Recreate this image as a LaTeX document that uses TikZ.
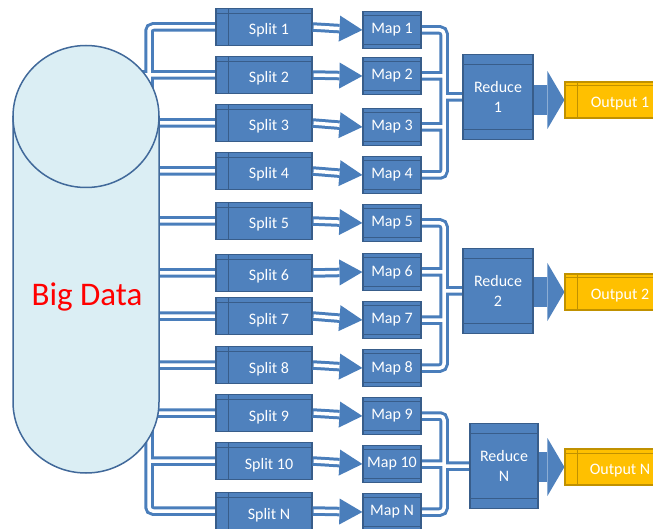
\documentclass[tikz,border=0pt]{standalone}
\usepackage{fontspec}
\setmainfont{Carlito}
\usetikzlibrary{positioning,arrows.meta,calc,backgrounds}
\definecolor{boxblue}{HTML}{4F81BD}
\definecolor{boxedge}{HTML}{385D8A}
\definecolor{pipeblue}{HTML}{4A7EBB}
\definecolor{cylfill}{HTML}{DBEEF4}
\definecolor{cyledge}{HTML}{41699A}
\definecolor{gold}{HTML}{FFC000}
\definecolor{goldedge}{HTML}{C09100}
\definecolor{bigred}{HTML}{FF0000}
\tikzset{
  blk/.style={rectangle, draw=boxedge, fill=boxblue, line width=1.2pt,
    text=white, inner sep=2pt, align=center},
  splitblk/.style={blk, minimum width=96pt, minimum height=37pt,
    text height=16pt, text depth=0pt, execute at begin node=\hspace*{10pt},
    path picture={
      \draw[boxedge, line width=1pt] ([yshift=-5pt]path picture bounding box.north west) -- ([yshift=-5pt]path picture bounding box.north east);
      \draw[boxedge, line width=1pt] ([xshift=12pt]path picture bounding box.north west) -- ([xshift=12pt]path picture bounding box.south west);}},
  mapblk/.style={blk, minimum width=58pt, minimum height=37pt,
    path picture={
      \draw[boxedge, line width=1pt] ([yshift=-4pt]path picture bounding box.north west) -- ([yshift=-4pt]path picture bounding box.north east);
      \draw[boxedge, line width=1pt] ([yshift=4pt]path picture bounding box.south west) -- ([yshift=4pt]path picture bounding box.south east);}},
  reduceblk/.style={blk, minimum width=70pt, minimum height=85pt,
    path picture={
      \draw[boxedge, line width=1pt] ([yshift=-10pt]path picture bounding box.north west) -- ([yshift=-10pt]path picture bounding box.north east);
      \draw[boxedge, line width=1pt] ([yshift=10pt]path picture bounding box.south west) -- ([yshift=10pt]path picture bounding box.south east);}},
  outblk/.style={blk, draw=goldedge, fill=gold, minimum width=100pt, minimum height=36pt,
    text height=15pt, text depth=0pt, execute at begin node=\hspace*{10pt},
    path picture={
      \draw[goldedge, line width=1pt] ([yshift=-4pt]path picture bounding box.north west) -- ([yshift=-4pt]path picture bounding box.north east);
      \draw[goldedge, line width=1pt] ([xshift=12pt]path picture bounding box.north west) -- ([xshift=12pt]path picture bounding box.south west);}},
  pipe/.style={draw=pipeblue, line width=3pt, double=white, double distance=3.5pt, rounded corners=4pt},
  arrowpipe/.style={draw=pipeblue, line width=9.5pt, -{Triangle[length=23pt, width=26pt, line width=0pt]}},
  arrowcore/.style={draw=white, line width=3.5pt, shorten <=1pt, shorten >=23pt},
  fatarrow/.style={draw=boxblue, line width=30pt, -{Triangle[length=17pt, width=58pt, line width=0pt]}},
  cyl/.style={fill=cylfill, draw=cyledge, line width=1.5pt},
}

\begin{document}
\begin{tikzpicture}[x=1pt, y=-1pt, font=\fontsize{16}{20}\selectfont]
  \path[use as bounding box, clip] (0,0) rectangle (653,529);

  % Splits and Maps
  \foreach \i/\ys/\ym/\lab in {1/27/30/1, 2/75/76/2, 3/123/127/3, 4/171/175/4,
      5/221/223/5, 6/273/272/6, 7/316/320/7, 8/365/368/8,
      9/413/416/9, 10/461/464/10, 11/511/512/N}{
    \node[splitblk] (s\i) at (264,\ys) {Split \lab};
    \node[mapblk] (m\i) at (392,\ym) {Map \lab};
  }

  % Reduce
  \node[reduceblk] (r1) at (498,97) {Reduce\\1};
  \node[reduceblk] (r2) at (498,291) {Reduce\\2};
  \node[reduceblk, minimum width=68pt] (r3) at (504,466) {Reduce\\N};

  % Output
  \node[outblk] (o1) at (615,100) {Output 1};
  \node[outblk] (o2) at (615,292) {Output 2};
  \node[outblk] (o3) at (615,467) {Output N};

  \coordinate (cyl) at (120,0);
  \coordinate (tt) at (149,95);
  \coordinate (tb) at (149,420);
  \coordinate (c1) at (444,0);

  \begin{scope}[on background layer]
    % Big Data -> Splits
    \draw[pipe] (tt) |- (s1.west)
      foreach \i in {2,...,9}{(s\i.west -| cyl) -- (s\i.west)}
      (tb) |- (s11.west) (s10.west -| tb) -- (s10.west);
    % Maps -> Reduce
    \draw[pipe] (m1.east) -| (c1 |- m4.east) -- (m4.east)
      (m2.east) -- (m2.east -| c1) (m3.east) -- (m3.east -| c1)
      (r1.west) -- (r1.west -| c1);
    \draw[pipe] (m5.east) -| (c1 |- m8.east) -- (m8.east)
      (m6.east) -- (m6.east -| c1) (m7.east) -- (m7.east -| c1)
      (r2.west) -- (r2.west -| c1);
    \draw[pipe] (m9.east) -| (c1 |- m11.east) -- (m11.east)
      (m10.east) -- (m10.east -| c1)
      (r3.west) -- (r3.west -| c1);
    % Big Data
    \filldraw[cyl] (13,116.5) -- (13,402)
      arc[start angle=180, end angle=360, x radius=73pt, y radius=71pt]
      -- (159,116.5) -- cycle;
    \filldraw[cyl] (86,116.5) ellipse[x radius=73pt, y radius=71pt];
  \end{scope}
  \node[text=bigred, font=\fontsize{33}{38}\selectfont] (bd) at (87,297) {Big Data};

  % Split -> Map
  \foreach \i in {1,...,11}{
    \draw[arrowpipe] (s\i.east) -- (m\i.west);
    \draw[arrowcore] (s\i.east) -- (m\i.west);
  }

  % Reduce -> Output
  \foreach \r/\o in {r1/o1, r2/o2, r3/o3}
    \draw[fatarrow] (\r.east |- \o.west) -- (\o.west);
\end{tikzpicture}
\end{document}
